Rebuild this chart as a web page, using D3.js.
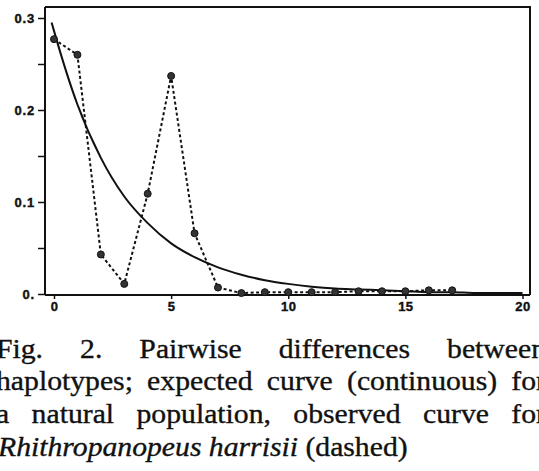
<!DOCTYPE html>
<html>
<head>
<meta charset="utf-8">
<script src="https://cdn.jsdelivr.net/npm/d3@7/dist/d3.min.js"></script>
<style>
  html, body { margin: 0; padding: 0; background: #fff; overflow: hidden; }
  svg { display: block; }
</style>
</head>
<body>
<svg id="chart" width="539" height="471"></svg>
<script>
// ---- data ----
const observedX = [0, 1, 2, 3, 4, 5, 6, 7, 8, 9, 10, 11, 12, 13, 14, 15, 16, 17];
const observedY = [0.277, 0.260, 0.043, 0.011, 0.109, 0.237, 0.066, 0.007, 0.001, 0.002, 0.002, 0.002, 0.002, 0.003, 0.003, 0.003, 0.004, 0.004];
const expectedX = [-0.1, 0, 1, 2, 3, 4, 5, 6, 7, 8, 9, 10, 11, 12, 13, 14, 15, 16, 17, 18, 19, 20];
const expectedY = [0.295, 0.286, 0.206, 0.148, 0.106, 0.077, 0.055, 0.040, 0.029, 0.021, 0.015, 0.011, 0.008, 0.006, 0.005, 0.004, 0.003, 0.002, 0.002, 0.001, 0.001, 0.001];
const xTicks = [0, 5, 10, 15, 20];
const xTickLabels = ["0", "5", "10", "15", "20"];
const yTicks = [0, 0.05, 0.1, 0.15, 0.2, 0.25, 0.3];
const yTickLabels = ["0.", "", "0.1", "", "0.2", "", "0.3"];
const captionLines = [
  "Fig. 2. Pairwise differences between",
  "haplotypes; expected curve (continuous) for",
  "a natural population, observed curve for"
];
const captionLastItalic = "Rhithropanopeus harrisii";
const captionLastRoman = " (dashed)";

// ---- layout ----
const svg = d3.select("#chart");
const ink = "#111";
const M = { left: 45, right: 530, top: 7, bottom: 295 };
const x = d3.scaleLinear().domain([0, 20]).range([54, 522.5]);
const y = d3.scaleLinear().domain([0, 0.3]).range([294, 18]);

// frame
svg.append("path")
  .attr("d", `M${M.left},${M.top}H${M.right}V${M.bottom}`)
  .attr("fill", "none").attr("stroke", ink).attr("stroke-width", 2);

// y axis
const yAxis = svg.append("g").attr("transform", `translate(${M.left},0)`)
  .call(d3.axisLeft(y).tickValues(yTicks).tickSize(7).tickPadding(3)
    .tickFormat((d, i) => yTickLabels[i]));
yAxis.select(".domain").attr("d", `M0,${M.top}V${M.bottom}`).attr("stroke", ink).attr("stroke-width", 2);
yAxis.selectAll(".tick line").attr("stroke", ink).attr("stroke-width", 1.5);
yAxis.selectAll(".tick text")
  .attr("fill", ink).attr("font-family", "Liberation Sans, Arial, sans-serif")
  .attr("font-weight", "bold").attr("font-size", 13).attr("letter-spacing", 0.8)
  .attr("stroke", ink).attr("stroke-width", 0.4);

// x axis
const xAxis = svg.append("g").attr("transform", `translate(0,${M.bottom})`)
  .call(d3.axisBottom(x).tickValues(xTicks).tickSize(4).tickPadding(3)
    .tickFormat((d, i) => xTickLabels[i]));
xAxis.select(".domain").attr("d", `M${M.left},0H${M.right}`).attr("stroke", ink).attr("stroke-width", 2);
xAxis.selectAll(".tick line").attr("stroke", ink).attr("stroke-width", 1.5);
xAxis.selectAll(".tick text")
  .attr("fill", ink).attr("font-family", "Liberation Sans, Arial, sans-serif")
  .attr("font-weight", "bold").attr("font-size", 13).attr("letter-spacing", 0.5)
  .attr("stroke", ink).attr("stroke-width", 0.4);

// expected curve
const expected = expectedX.map((v, i) => [v, expectedY[i]]);
svg.append("path")
  .datum(expected)
  .attr("fill", "none").attr("stroke", ink).attr("stroke-width", 2)
  .attr("d", d3.line().x(d => x(d[0])).y(d => y(d[1])).curve(d3.curveMonotoneX));

// observed curve
const observed = observedX.map((v, i) => [v, observedY[i]]);
svg.append("path")
  .datum(observed)
  .attr("fill", "none").attr("stroke", ink).attr("stroke-width", 2)
  .attr("stroke-dasharray", "3,2.5")
  .attr("d", d3.line().x(d => x(d[0])).y(d => y(d[1])));
svg.append("g").selectAll("circle").data(observed).join("circle")
  .attr("cx", d => x(d[0])).attr("cy", d => y(d[1])).attr("r", 3.5)
  .attr("fill", "#333").attr("stroke", ink).attr("stroke-width", 1);

// caption (justified), slightly widened like the scanned original
const capFont = "Liberation Serif, Times New Roman, serif";
const capSize = 27;
const sx = 1.1;
const capLeft = -4 / sx, capRight = 546 / sx;
const baselines = [358, 390.5, 423, 456];
const cap = svg.append("g").attr("transform", `scale(${sx},1)`);
captionLines.forEach((line, li) => {
  const words = line.split(" ");
  const t = cap.append("text").attr("font-family", capFont).attr("font-size", capSize)
    .attr("fill", ink).attr("stroke", ink).attr("stroke-width", 0.35);
  const widths = words.map(w => {
    const tmp = t.append("tspan").text(w);
    const wd = tmp.node().getComputedTextLength();
    tmp.remove();
    return wd;
  });
  const total = d3.sum(widths);
  const gap = (capRight - capLeft - total) / (words.length - 1);
  let cx = capLeft;
  words.forEach((w, i) => {
    t.append("tspan").attr("x", cx).attr("y", baselines[li]).text(w);
    cx += widths[i] + gap;
  });
});
const last = cap.append("text").attr("x", -2 / sx).attr("y", baselines[3])
  .attr("font-family", capFont).attr("font-size", capSize)
  .attr("fill", ink).attr("stroke", ink).attr("stroke-width", 0.35);
last.append("tspan").attr("font-style", "italic").text(captionLastItalic);
last.append("tspan").attr("xml:space", "preserve").text(captionLastRoman);
</script>
</body>
</html>
